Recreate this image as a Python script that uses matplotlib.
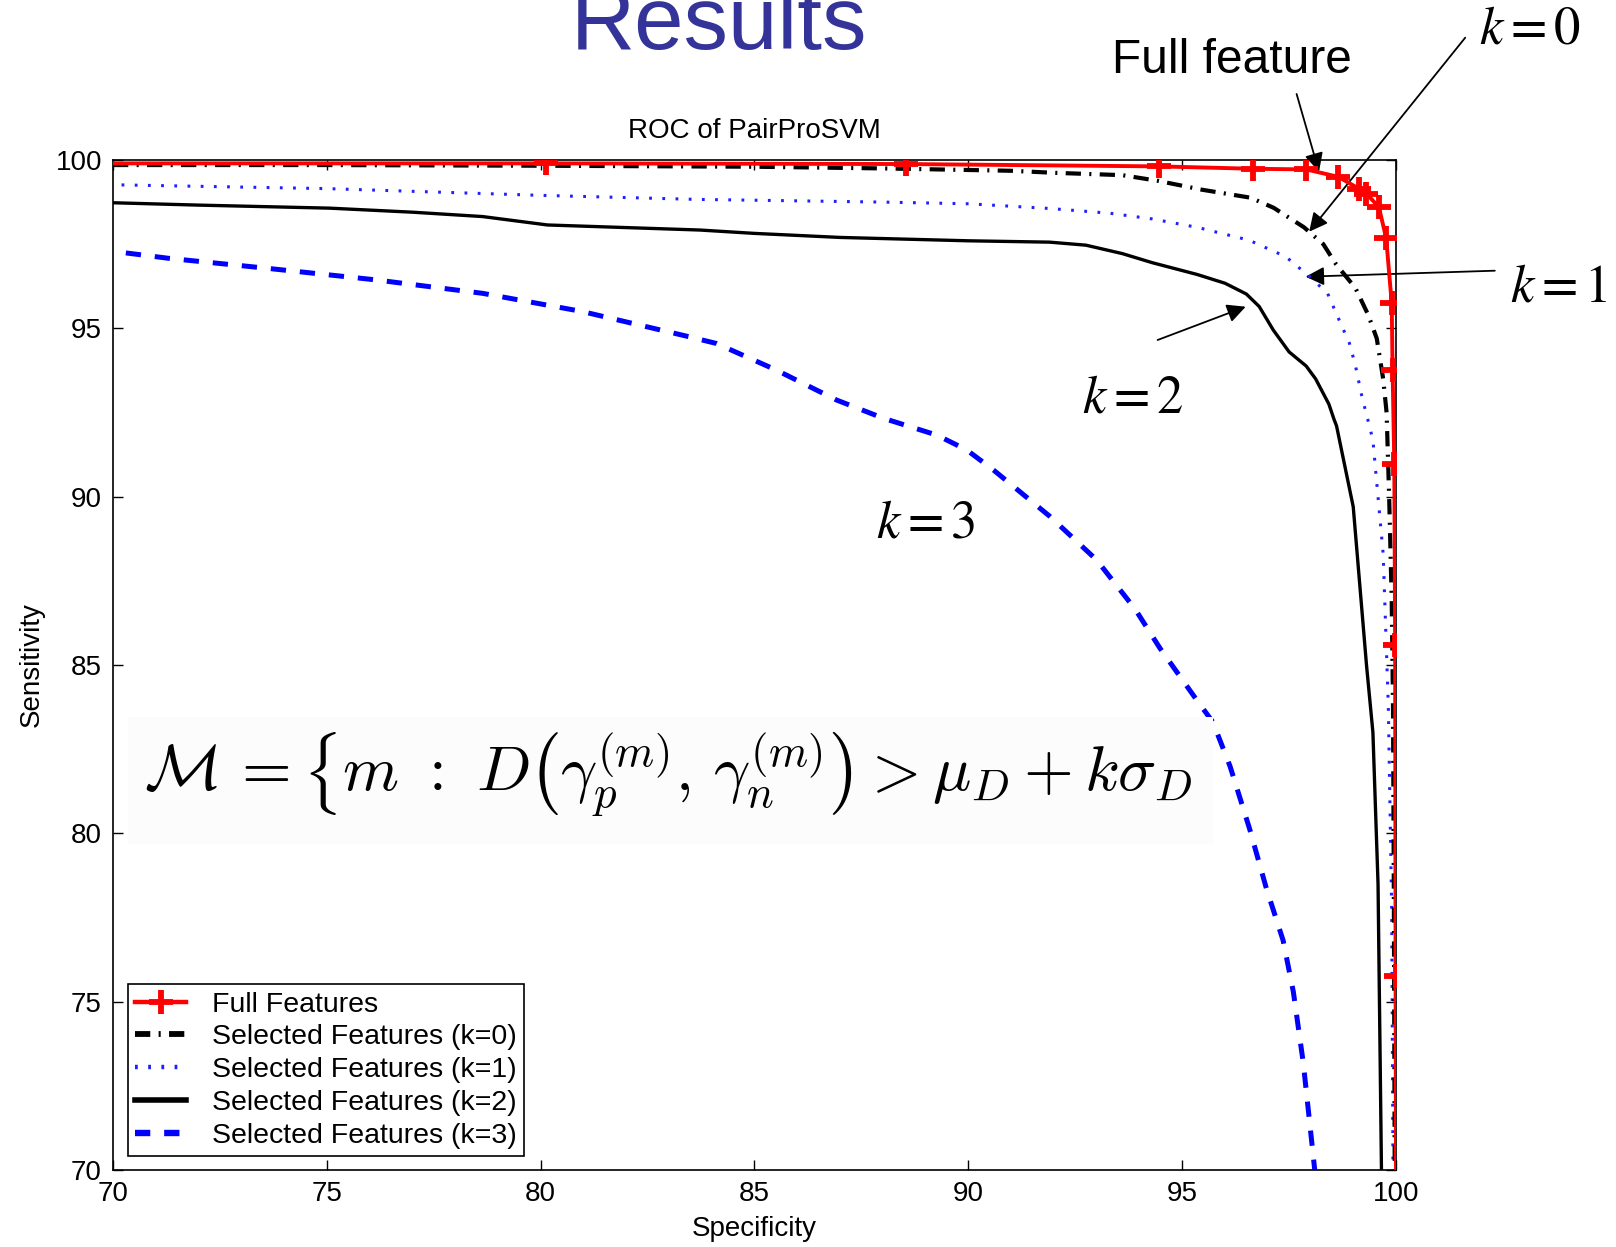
import matplotlib
matplotlib.use("Agg")
import matplotlib.pyplot as plt
from matplotlib.patches import Rectangle

plt.rcParams['font.family'] = ['Liberation Sans', 'DejaVu Sans']
plt.rcParams['lines.scale_dashes'] = False

# ---------------- data ----------------
full_x = [70.0, 80.12, 88.55, 94.46, 96.66, 97.9, 98.65, 99.13, 99.31, 99.6, 99.77,
          99.9, 99.92, 99.96, 99.98, 99.99, 100.0]
full_y = [99.9, 99.9, 99.88, 99.81, 99.74, 99.72, 99.5, 99.15, 99.0, 98.6, 97.68,
          95.75, 93.75, 90.98, 85.6, 75.75, 70.0]

k0_x = [70.0, 75.0, 80.0, 85.0, 88.0, 91.0, 92.0, 93.6, 94.44, 95.45, 96.6, 97.14,
        97.85, 98.3, 98.6, 99.05, 99.35, 99.55, 99.7, 99.78, 99.84, 99.9, 99.93,
        99.95, 99.97]
k0_y = [99.85, 99.85, 99.83, 99.8, 99.75, 99.68, 99.62, 99.55, 99.38, 99.12, 98.88,
        98.58, 98.0, 97.5, 96.9, 96.2, 95.4, 94.7, 93.5, 92.5, 90.0, 86.9, 83.8,
        78.0, 70.0]

k1_x = [70.2, 75.0, 80.0, 83.65, 88.0, 90.0, 91.9, 93.3, 94.3, 95.35, 96.56, 97.42,
        97.94, 98.4, 98.6, 98.91, 99.05, 99.22, 99.3, 99.46, 99.7, 99.82, 99.9, 99.93]
k1_y = [99.26, 99.15, 98.95, 98.83, 98.75, 98.7, 98.56, 98.42, 98.25, 98.0, 97.62,
        97.13, 96.58, 96.04, 95.45, 94.56, 93.9, 92.87, 92.5, 91.68, 88.3, 83.8,
        77.7, 70.0]

k2_x = [70.0, 72.0, 75.06, 77.0, 78.64, 80.16, 83.72, 85.0, 87.0, 90.0, 91.9, 92.75,
        93.6, 94.3, 95.35, 96.0, 96.5, 96.8, 97.13, 97.5, 97.9, 98.12, 98.43, 98.55,
        98.61, 99.0, 99.31, 99.46, 99.58, 99.63, 99.66]
k2_y = [98.73, 98.66, 98.57, 98.45, 98.32, 98.07, 97.92, 97.82, 97.7, 97.6, 97.56,
        97.47, 97.22, 96.95, 96.6, 96.34, 96.02, 95.65, 94.95, 94.3, 93.88, 93.5,
        92.75, 92.3, 92.1, 89.7, 85.0, 83.0, 78.5, 73.2, 70.0]

k3_x = [70.3, 71.3, 73.63, 76.14, 78.64, 80.97, 83.47, 84.11, 85.51, 86.92, 88.01,
        89.26, 89.96, 90.59, 91.91, 93.0, 93.9, 94.48, 95.34, 95.72, 96.12, 96.58,
        96.97, 97.36, 97.6, 97.83, 98.1]
k3_y = [97.24, 97.08, 96.78, 96.44, 96.04, 95.5, 94.75, 94.55, 93.76, 92.87, 92.33,
        91.83, 91.39, 90.79, 89.41, 88.12, 86.66, 85.5, 83.96, 83.3, 81.99, 80.12,
        78.36, 76.82, 75.29, 73.2, 70.0]

series_labels = ['Full Features', 'Selected Features (k=0)', 'Selected Features (k=1)',
                 'Selected Features (k=2)', 'Selected Features (k=3)']
x_ticks = [70, 75, 80, 85, 90, 95, 100]
y_ticks = [70, 75, 80, 85, 90, 95, 100]

# ---------------- figure ----------------
W, H = 1616, 1247
fig = plt.figure(figsize=(W / 100, H / 100), dpi=100)
fig.patch.set_facecolor('white')

def fx(px):
    return px / W

def fy(py):
    return 1 - py / H

ax = fig.add_axes([fx(113), fy(1170), (1396 - 113) / W, (1170 - 160) / H])

# very faint background box behind the formula
fig.patches.append(Rectangle((fx(128), fy(844)), (1213 - 128) / W, (844 - 717) / H,
                             transform=fig.transFigure, facecolor='#fcfcfc',
                             edgecolor='none', zorder=0))
ax.set_facecolor('none')

ax.plot(full_x, full_y, color='#ff0000', lw=2.8, marker='+', ms=17, mew=4.2,
        markevery=list(range(1, len(full_x) - 1)), label=series_labels[0], zorder=6)
ax.plot(k0_x, k0_y, color='black', lw=3.0, dashes=(11, 6, 1.5, 6),
        label=series_labels[1], zorder=5)
ax.plot(k1_x, k1_y, color='#1f1fff', lw=2.2, dashes=(2.0, 7.5),
        label=series_labels[2], zorder=4)
ax.plot(k2_x, k2_y, color='black', lw=2.4, label=series_labels[3], zorder=3)
ax.plot(k3_x, k3_y, color='#0000ff', lw=3.6, dashes=(11, 10),
        label=series_labels[4], zorder=2)

ax.set_xlim(70, 100)
ax.set_ylim(70, 100)
ax.set_xticks(x_ticks)
ax.set_yticks(y_ticks)
ax.tick_params(direction='in', top=True, right=True, length=7, width=1,
               labelsize=20, pad=8)
for s in ax.spines.values():
    s.set_linewidth(1.2)
    s.set_color('black')

ax.set_title('ROC of PairProSVM', fontsize=20, pad=16)
ax.set_xlabel('Specificity', fontsize=20, labelpad=6.5)
ax.set_ylabel('Sensitivity', fontsize=20, labelpad=7.5)

leg = ax.legend(loc='lower left', bbox_to_anchor=(0.0117, 0.0139), borderaxespad=0,
                fontsize=20.5, fancybox=False, framealpha=1, edgecolor='black',
                handlelength=1.8, handletextpad=0.9, labelspacing=0.24,
                borderpad=0.25, numpoints=1)
leg.get_frame().set_linewidth(1.2)
for line, lw in zip(leg.get_lines(), [3.2, 4.2, 3.2, 4.0, 4.6]):
    line.set_linewidth(lw)

# ---------------- slide annotations ----------------
fig.text(fx(719), fy(49), 'Results', ha='center', va='baseline', fontsize=64,
         color='#333399')
fig.text(fx(1112), fy(73), 'Full feature', ha='left', va='baseline', fontsize=34.5,
         color='black')

klabels = [('$k{=}0$', 1479, 44), ('$k{=}1$', 1510, 302),
           ('$k{=}2$', 1082, 412), ('$k{=}3$', 876, 537)]
for s, x, y in klabels:
    fig.text(fx(x), fy(y), s, ha='left', va='baseline', fontsize=38,
             math_fontfamily='stix', color='black')

arrows = [((1296.6, 94), (1319, 171.7)),
          ((1465.2, 37.7), (1309.2, 231.7)),
          ((1494.8, 270.7), (1305.6, 276.7)),
          ((1157.6, 340), (1245.7, 306.7))]
for (x0, y0), (x1, y1) in arrows:
    ax.annotate('', xy=(x1, H - y1), xytext=(x0, H - y0), xycoords='figure pixels',
                textcoords='figure pixels', annotation_clip=False,
                arrowprops=dict(arrowstyle='-|>', color='black', lw=1.3,
                                mutation_scale=28, shrinkA=0, shrinkB=0))

formula = (r'$\mathcal{M}\,=\left\{m\ :\ D\left(\gamma_p^{(m)},\, \gamma_n^{(m)}\right)'
           r' > \mu_D + k\sigma_D\right.$')
fig.text(fx(144), fy(792), formula, ha='left', va='baseline', fontsize=46,
         math_fontfamily='cm', color='black')

fig.savefig('out.png', dpi=100)
